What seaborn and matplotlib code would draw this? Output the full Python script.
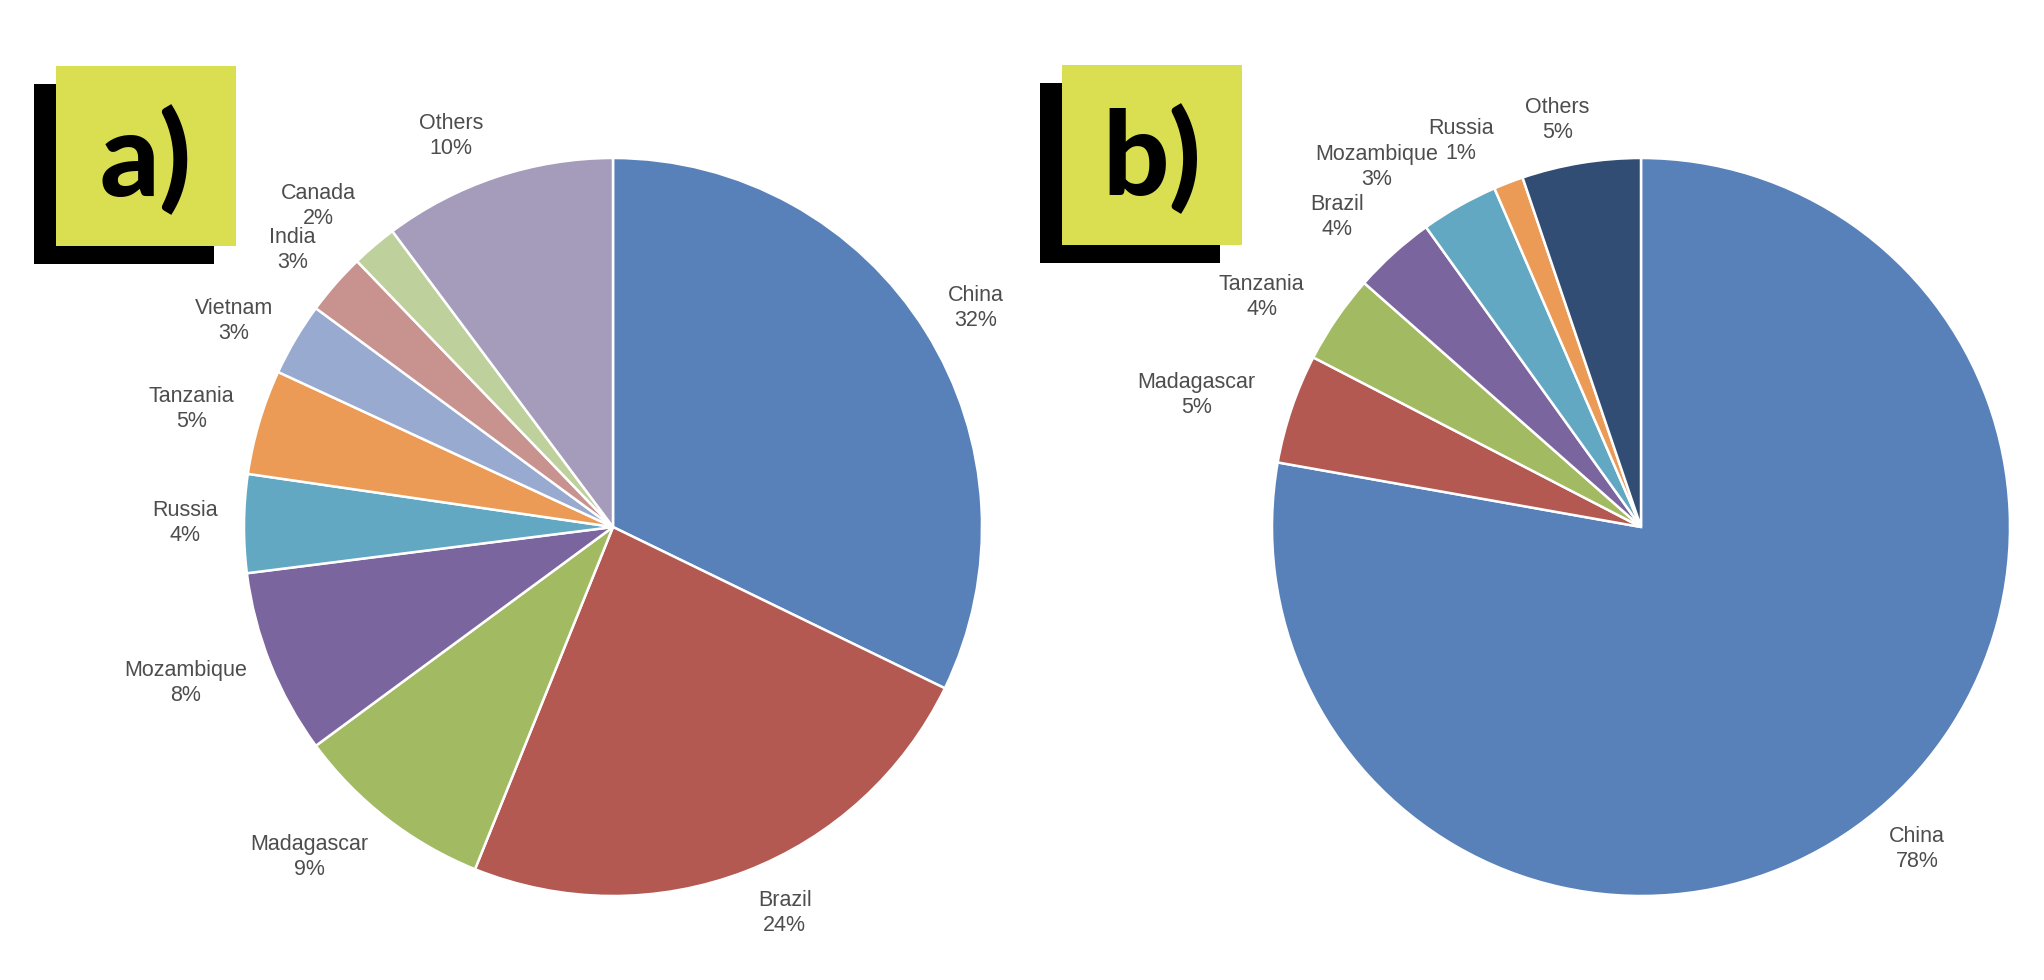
import matplotlib.pyplot as plt
import seaborn as sns
import numpy as np
from matplotlib.patches import Rectangle

# chart a) - share by country
countries_a = ['China', 'Brazil', 'Madagascar', 'Mozambique', 'Russia',
               'Tanzania', 'Vietnam', 'India', 'Canada', 'Others']
shares_a = [32.2, 23.9, 8.8, 8.1, 4.3, 4.6, 3.2, 2.7, 2.0, 10.2]

# chart b)
countries_b = ['China', 'Madagascar', 'Tanzania', 'Brazil', 'Mozambique',
               'Russia', 'Others']
shares_b = [77.8, 4.8, 3.9, 3.6, 3.4, 1.3, 5.2]

colors_a = ['#5881BA', '#B45852', '#A2BB63', '#7B659E', '#62A8C3',
            '#EB9B56', '#98AACF', '#C8928F', '#BED09C', '#A59BBB']
colors_b = ['#5881BA', '#B45852', '#A2BB63', '#7B659E', '#62A8C3',
            '#EB9B56', '#324D74']

# label placement: angle clockwise from 12 o'clock (deg) and distance in radii
lab_ang_a = [58.9, 156.0, 222.6, 249.9, 270.5, 285.7, 298.5, 310.8, 317.4, 337.5]
lab_dist_a = [1.148, 1.145, 1.215, 1.234, 1.159, 1.186, 1.170, 1.147, 1.180, 1.147]
lab_ang_b = [139.4, 286.5, 301.2, 315.6, 323.7, 335.0, 348.4]
lab_dist_b = [1.150, 1.257, 1.202, 1.177, 1.211, 1.154, 1.125]

sns.set_theme(style='white')
plt.rcParams['font.family'] = ['Liberation Sans', 'DejaVu Sans']

W, H = 2044, 980
fig = plt.figure(figsize=(W / 100, H / 100), dpi=100)

R = 369  # pie radius in px
LIM = 1.5


def pie_axes(cx, cy):
    side = 2 * R * LIM
    return fig.add_axes([(cx - side / 2) / W, (H - cy - side / 2) / H,
                         side / W, side / H])


def draw_pie(ax, names, values, colors, angs, dists):
    labels = [f'{n}\n{round(v):.0f}%' for n, v in zip(names, values)]
    wedges, texts = ax.pie(values, labels=labels, colors=colors,
                           startangle=90, counterclock=False,
                           wedgeprops=dict(edgecolor='white', linewidth=1.8),
                           textprops=dict(fontsize=15.5, color='#4d4d4d',
                                          ha='center', va='center',
                                          linespacing=1.25),
                           labeldistance=1.17)
    for t, a, d in zip(texts, angs, dists):
        th = np.deg2rad(90 - a)
        t.set_position((d * np.cos(th), d * np.sin(th)))
        t.set_multialignment('center')
    ax.set_xlim(-LIM, LIM)
    ax.set_ylim(-LIM, LIM)
    ax.set_aspect('equal')
    ax.axis('off')


ax_a = pie_axes(613, 527)
draw_pie(ax_a, countries_a, shares_a, colors_a, lab_ang_a, lab_dist_a)
ax_b = pie_axes(1641, 527)
draw_pie(ax_b, countries_b, shares_b, colors_b, lab_ang_b, lab_dist_b)


def badge(x, y, letter):
    # black shadow square, then the yellow square on top
    size = 180
    fig.patches.append(Rectangle(((x - 22) / W, (H - y - 18 - size) / H),
                                 size / W, size / H, transform=fig.transFigure,
                                 facecolor='black', edgecolor='none', zorder=5))
    fig.patches.append(Rectangle((x / W, (H - y - size) / H),
                                 size / W, size / H, transform=fig.transFigure,
                                 facecolor='#D9DF50', edgecolor='none', zorder=6))
    fig.text((x + size / 2) / W, (H - y - size / 2 - 4) / H, letter,
             fontsize=84, fontweight='black', family=['Lato', 'DejaVu Sans'],
             ha='center', va='center', color='black', zorder=7)


badge(56, 66, 'a)')
badge(1062, 65, 'b)')

fig.savefig('out.png', dpi=100, facecolor='white')
